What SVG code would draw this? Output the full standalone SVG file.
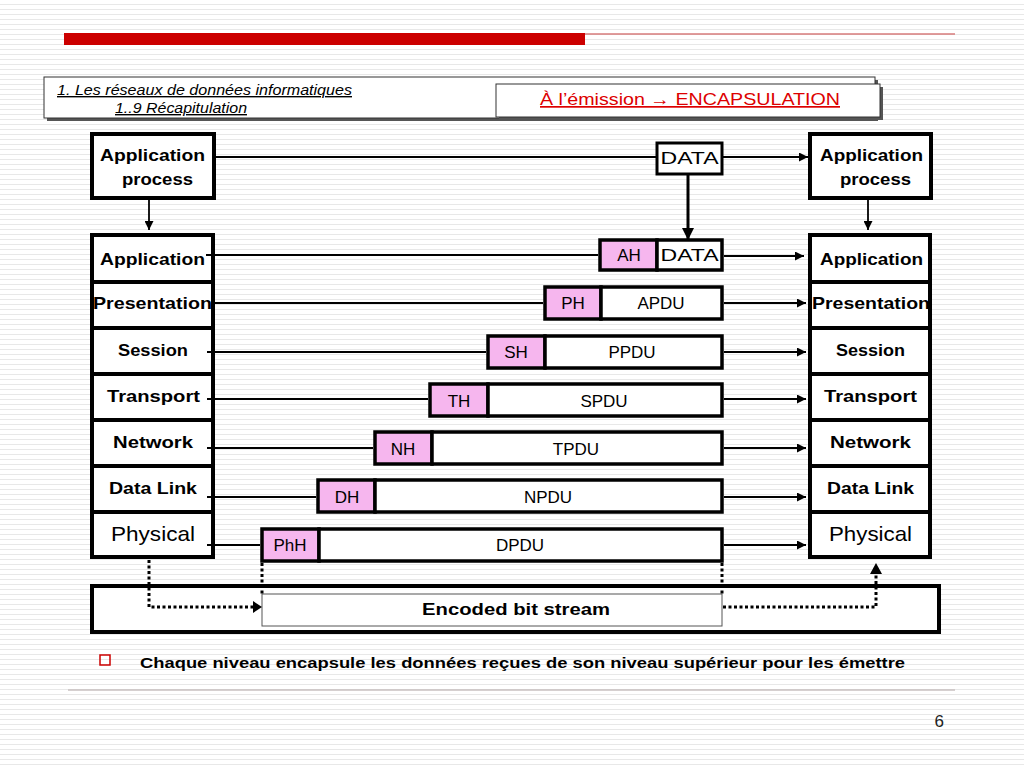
<svg xmlns="http://www.w3.org/2000/svg" width="1024" height="768" viewBox="0 0 1024 768">
<defs>
<pattern id="lines" x="0" y="0" width="1024" height="5" patternUnits="userSpaceOnUse">
<rect width="1024" height="5" fill="#ffffff"/>
<line x1="0" y1="4.5" x2="1024" y2="4.5" stroke="#e8e8e8" stroke-width="1"/>
</pattern>
<marker id="ah" viewBox="0 0 10 10" refX="10" refY="5" markerWidth="9" markerHeight="9" markerUnits="userSpaceOnUse" orient="auto">
<path d="M0,0 L10,5 L0,10 z" fill="#000"/>
</marker>
<marker id="ahb" viewBox="0 0 10 10" refX="10" refY="5" markerWidth="12" markerHeight="12" markerUnits="userSpaceOnUse" orient="auto">
<path d="M0,0 L10,5 L0,10 z" fill="#000"/>
</marker>
</defs>
<style>
.t{font-family:"Liberation Sans",Arial,sans-serif;font-weight:bold;font-size:17px;fill:#000;}
.n{font-family:"Liberation Sans",Arial,sans-serif;font-size:17px;fill:#000;text-anchor:middle;}
.r{font-family:"Liberation Sans",Arial,sans-serif;font-size:21px;fill:#000;}
.box{fill:#fff;stroke:#000;stroke-width:4;}
.pdu{fill:#fff;stroke:#000;stroke-width:3.5;}
.hdr{fill:#f6b6ee;stroke:#000;stroke-width:3.5;}
.ln{stroke:#000;stroke-width:1.8;fill:none;}
.arr{stroke:#000;stroke-width:1.8;fill:none;marker-end:url(#ah);}
.dot{stroke:#000;stroke-width:3;fill:none;stroke-dasharray:3 2.5;}
</style>
<rect width="1024" height="768" fill="url(#lines)"/>

<!-- top decoration -->
<rect x="64" y="33" width="521" height="12" fill="#cc0000"/>
<line x1="585" y1="34" x2="955" y2="34" stroke="#d77b7b" stroke-width="1.5"/>

<!-- header -->
<g id="header">
<rect x="47" y="80" width="831" height="41" fill="#555"/>
<rect x="44" y="77" width="831" height="41" fill="#fff" stroke="#333" stroke-width="1"/>
<text x="57" y="95" font-family="Liberation Sans,Arial,sans-serif" font-style="italic" font-size="14" text-decoration="underline" textLength="295" lengthAdjust="spacingAndGlyphs">1. Les réseaux  de données informatiques</text>
<text x="115" y="113" font-family="Liberation Sans,Arial,sans-serif" font-style="italic" font-size="14" text-decoration="underline" textLength="132" lengthAdjust="spacingAndGlyphs">1..9 Récapitulation</text>
</g>
<g id="title">
<rect x="499" y="87" width="384" height="33" fill="#555"/>
<rect x="496" y="84" width="384" height="33" fill="#fff" stroke="#333" stroke-width="1"/>
<text x="540" y="105" font-family="Liberation Sans,Arial,sans-serif" font-size="17" fill="#dd0000" text-decoration="underline" textLength="300" lengthAdjust="spacingAndGlyphs">À l’émission → ENCAPSULATION</text>
</g>

<!-- application processes -->
<g id="app-process-left">
<rect class="box" x="92" y="134" width="122" height="64"/>
<text class="t" x="100" y="161" textLength="105" lengthAdjust="spacingAndGlyphs">Application</text>
<text class="t" x="122" y="185" textLength="71" lengthAdjust="spacingAndGlyphs">process</text>
</g>
<g id="app-process-right">
<rect class="box" x="810" y="134" width="121" height="64"/>
<text class="t" x="820" y="161" textLength="103" lengthAdjust="spacingAndGlyphs">Application</text>
<text class="t" x="840" y="185" textLength="71" lengthAdjust="spacingAndGlyphs">process</text>
</g>
<g id="data-top">
<rect x="657" y="143" width="65" height="31" fill="#fff" stroke="#000" stroke-width="3"/>
<text class="n" x="689.5" y="164" textLength="58" lengthAdjust="spacingAndGlyphs">DATA</text>
</g>

<!-- left stack -->
<g id="left-application"><rect class="box" x="92" y="235" width="121" height="47"/><text class="t" x="100" y="265" textLength="105" lengthAdjust="spacingAndGlyphs">Application</text></g>
<g id="left-presentation"><rect class="box" x="92" y="282" width="121" height="46"/><text class="t" x="93" y="309" textLength="119" lengthAdjust="spacingAndGlyphs">Presentation</text></g>
<g id="left-session"><rect class="box" x="92" y="328" width="121" height="46"/><text class="t" x="118" y="356" textLength="70" lengthAdjust="spacingAndGlyphs">Session</text></g>
<g id="left-transport"><rect class="box" x="92" y="374" width="121" height="46"/><text class="t" x="107" y="402" textLength="93" lengthAdjust="spacingAndGlyphs">Transport</text></g>
<g id="left-network"><rect class="box" x="92" y="420" width="121" height="46"/><text class="t" x="113" y="448" textLength="80" lengthAdjust="spacingAndGlyphs">Network</text></g>
<g id="left-datalink"><rect class="box" x="92" y="466" width="121" height="46"/><text class="t" x="109" y="494" textLength="88" lengthAdjust="spacingAndGlyphs">Data Link</text></g>
<g id="left-physical"><rect class="box" x="92" y="512" width="121" height="45"/><text class="r" x="111" y="541" textLength="84" lengthAdjust="spacingAndGlyphs">Physical</text></g>

<!-- right stack -->
<g id="right-application"><rect class="box" x="810" y="235" width="120" height="47"/><text class="t" x="820" y="265" textLength="103" lengthAdjust="spacingAndGlyphs">Application</text></g>
<g id="right-presentation"><rect class="box" x="810" y="282" width="120" height="46"/><text class="t" x="812" y="309" textLength="118" lengthAdjust="spacingAndGlyphs">Presentation</text></g>
<g id="right-session"><rect class="box" x="810" y="328" width="120" height="46"/><text class="t" x="836" y="356" textLength="69" lengthAdjust="spacingAndGlyphs">Session</text></g>
<g id="right-transport"><rect class="box" x="810" y="374" width="120" height="46"/><text class="t" x="824" y="402" textLength="93" lengthAdjust="spacingAndGlyphs">Transport</text></g>
<g id="right-network"><rect class="box" x="810" y="420" width="120" height="46"/><text class="t" x="830" y="448" textLength="81" lengthAdjust="spacingAndGlyphs">Network</text></g>
<g id="right-datalink"><rect class="box" x="810" y="466" width="120" height="46"/><text class="t" x="827" y="494" textLength="87" lengthAdjust="spacingAndGlyphs">Data Link</text></g>
<g id="right-physical"><rect class="box" x="810" y="512" width="120" height="45"/><text class="r" x="829" y="541" textLength="83" lengthAdjust="spacingAndGlyphs">Physical</text></g>

<!-- PDUs -->
<g id="pdu-ah">
<rect class="hdr" x="600" y="240" width="57" height="30"/>
<rect class="pdu" x="657" y="240" width="65" height="30"/>
<text class="n" x="629" y="261">AH</text>
<text class="n" x="689.5" y="261" textLength="58" lengthAdjust="spacingAndGlyphs">DATA</text>
</g>
<g id="pdu-ph">
<rect class="hdr" x="545" y="287" width="56" height="32"/>
<rect class="pdu" x="601" y="287" width="121" height="32"/>
<text class="n" x="573" y="309">PH</text>
<text class="n" x="661" y="309">APDU</text>
</g>
<g id="pdu-sh">
<rect class="hdr" x="488" y="336" width="57" height="32"/>
<rect class="pdu" x="545" y="336" width="177" height="32"/>
<text class="n" x="516" y="358">SH</text>
<text class="n" x="632" y="358">PPDU</text>
</g>
<g id="pdu-th">
<rect class="hdr" x="430" y="384" width="58" height="32"/>
<rect class="pdu" x="488" y="384" width="234" height="32"/>
<text class="n" x="459" y="407">TH</text>
<text class="n" x="604" y="407">SPDU</text>
</g>
<g id="pdu-nh">
<rect class="hdr" x="375" y="432" width="57" height="32"/>
<rect class="pdu" x="432" y="432" width="290" height="32"/>
<text class="n" x="403" y="455">NH</text>
<text class="n" x="576" y="455">TPDU</text>
</g>
<g id="pdu-dh">
<rect class="hdr" x="318" y="480" width="57" height="32"/>
<rect class="pdu" x="375" y="480" width="347" height="32"/>
<text class="n" x="347" y="503">DH</text>
<text class="n" x="548" y="503">NPDU</text>
</g>
<g id="pdu-phh">
<rect class="hdr" x="262" y="529" width="57" height="32"/>
<rect class="pdu" x="319" y="529" width="403" height="32"/>
<text class="n" x="290" y="551">PhH</text>
<text class="n" x="520" y="551">DPDU</text>
</g>

<!-- physical medium -->
<g id="medium">
<rect class="box" x="92" y="586" width="847" height="46"/>
</g>
<g id="bitstream">
<rect x="262" y="594" width="460" height="32" fill="#fff" stroke="#555" stroke-width="1"/>
<text class="t" x="516" y="615" text-anchor="middle" textLength="188" lengthAdjust="spacingAndGlyphs">Encoded bit stream</text>
</g>

<!-- connectors -->
<g id="connectors">
<line class="ln" x1="215" y1="157" x2="657" y2="157"/>
<line class="arr" x1="722" y1="157" x2="808" y2="157"/>
<line class="arr" x1="149" y1="200" x2="149" y2="230"/>
<line class="arr" x1="868" y1="200" x2="868" y2="230"/>
<line x1="688" y1="175" x2="688" y2="240" stroke="#000" stroke-width="3" marker-end="url(#ahb)"/>

<line class="ln" x1="206" y1="255" x2="598" y2="255"/>
<line class="ln" x1="213" y1="303" x2="543" y2="303"/>
<line class="ln" x1="207" y1="352" x2="486" y2="352"/>
<line class="ln" x1="207" y1="399" x2="428" y2="399"/>
<line class="ln" x1="207" y1="448" x2="373" y2="448"/>
<line class="ln" x1="207" y1="497" x2="316" y2="497"/>
<line class="ln" x1="207" y1="545" x2="260" y2="545"/>

<line class="arr" x1="724" y1="256" x2="804" y2="256"/>
<line class="arr" x1="724" y1="303" x2="806" y2="303"/>
<line class="arr" x1="724" y1="352" x2="806" y2="352"/>
<line class="arr" x1="724" y1="399" x2="806" y2="399"/>
<line class="arr" x1="724" y1="448" x2="806" y2="448"/>
<line class="arr" x1="724" y1="497" x2="806" y2="497"/>
<line class="arr" x1="724" y1="545" x2="806" y2="545"/>

<line class="dot" x1="262" y1="563" x2="262" y2="594" stroke-dasharray="6 4"/>
<line class="dot" x1="722" y1="563" x2="722" y2="594" stroke-dasharray="6 4"/>
<path class="dot" d="M149,560 L149,607 L254,607"/>
<path d="M253,601 L262,607 L253,613 z" fill="#000"/>
<path class="dot" d="M723,607 L876,607 L876,572"/>
<path d="M870,574 L876,563 L882,574 z" fill="#000"/>
</g>

<!-- footer -->
<rect x="100" y="655" width="10" height="10" fill="none" stroke="#cc0000" stroke-width="1.5"/>
<text x="140" y="668" font-family="Liberation Sans,Arial,sans-serif" font-weight="bold" font-size="15" textLength="765" lengthAdjust="spacingAndGlyphs">Chaque niveau encapsule les données reçues de son niveau supérieur pour les émettre</text>
<line x1="68" y1="690" x2="955" y2="690" stroke="#c8c0c0" stroke-width="1.5"/>
<text x="944" y="727" text-anchor="end" font-family="Liberation Sans,Arial,sans-serif" font-size="17" fill="#222">6</text>
</svg>
